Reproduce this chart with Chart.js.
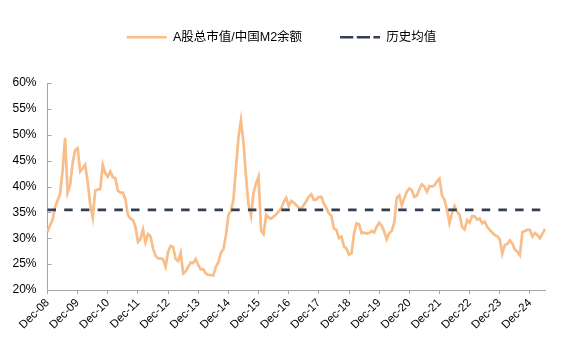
<!DOCTYPE html>
<html>
<head>
<meta charset="utf-8">
<script src="https://cdn.jsdelivr.net/npm/chart.js@4"></script>
<style>
  html, body { margin: 0; padding: 0; background: #fff; }
  canvas { display: block; }
</style>
</head>
<body>
<canvas id="mktChart" width="561" height="348"></canvas>
<script>
// A-share total market cap as % of China M2, month-end, from Dec-08
const ratio = [
  31.2, 32.5, 33.5, 36.0, 37.3, 38.5, 43.0, 49.4, 38.8, 40.3, 44.5, 47.0,
  47.4, 42.9, 43.5, 44.2, 40.8, 36.5, 34.0, 39.2, 39.4, 39.5, 44.2, 42.6,
  41.9, 42.9, 41.8, 41.6, 39.2, 38.8, 38.8, 37.5, 34.5, 33.8, 33.5, 32.2,
  29.3, 29.8, 31.7, 29.2, 30.8, 30.4, 28.0, 26.6, 26.1, 26.1, 25.9, 24.5,
  27.4, 28.5, 28.3, 26.0, 25.6, 27.2, 23.2, 23.6, 24.5, 25.3, 25.2, 26.0,
  24.8, 24.0, 24.0, 23.2, 22.9, 22.9, 22.8, 24.5, 25.3, 27.2, 27.9, 30.5,
  34.5, 35.3, 37.5, 43.5, 49.5, 52.8, 48.5, 42.0, 36.5, 34.3, 38.8, 40.6,
  41.9, 31.5, 30.8, 34.5, 34.0, 33.8, 34.2, 34.6, 35.2, 35.8, 37.0, 37.8,
  36.2, 37.2, 36.9, 36.4, 35.9, 35.7, 36.4, 37.2, 38.0, 38.5, 37.4, 37.5,
  38.0, 38.0, 36.7, 35.8, 34.8, 34.3, 31.9, 31.6, 30.0, 30.3, 28.4, 28.0,
  26.8, 27.1, 30.9, 32.9, 32.7, 31.0, 31.1, 30.9, 31.0, 31.4, 31.1, 32.2,
  33.0, 32.4, 31.3, 29.8, 31.0, 31.4, 33.0, 37.8, 38.3, 36.4, 37.7, 39.0,
  39.6, 39.3, 38.0, 38.2, 39.5, 40.4, 40.0, 39.0, 40.1, 40.0, 40.2, 41.0,
  41.5, 38.3, 37.4, 35.5, 32.9, 34.8, 36.2, 35.1, 34.5, 32.2, 31.7, 33.5,
  33.0, 34.3, 34.2, 33.6, 33.8, 32.9, 33.2, 32.2, 31.6, 31.1, 30.6, 30.4,
  29.8, 27.0, 28.7, 28.9, 29.6, 29.0, 27.8, 27.4, 26.7, 31.2, 31.4, 31.6,
  31.6, 30.3, 31.0, 30.6, 30.0, 30.9, 31.8
];
const histMean = 35.5;

const monthNames = ['Jan', 'Feb', 'Mar', 'Apr', 'May', 'Jun', 'Jul', 'Aug', 'Sep', 'Oct', 'Nov', 'Dec'];
const months = ratio.map((_, i) => {
  const m = 11 + i;
  const yy = 8 + Math.floor(m / 12);
  return monthNames[m % 12] + '-' + String(yy).padStart(2, '0');
});

const FONT = '"Liberation Sans", "Noto Sans CJK SC", Arial, sans-serif';
const axisColor = '#a6a6a6';

// small tick marks on the inner side of the y axis
const innerTicks = {
  id: 'innerTicks',
  afterDatasetsDraw(chart) {
    const { ctx, chartArea, scales: { y } } = chart;
    ctx.save();
    ctx.strokeStyle = axisColor;
    ctx.lineWidth = 1;
    y.ticks.forEach(t => {
      const py = Math.round(y.getPixelForValue(t.value)) + 0.5;
      ctx.beginPath();
      ctx.moveTo(chartArea.left, py);
      ctx.lineTo(chartArea.left + 4, py);
      ctx.stroke();
    });
    ctx.restore();
  }
};

// fixed legend band height so the plot starts where it should,
// and nudge the legend a little to the right
const legendBand = {
  id: 'legendBand',
  beforeInit(chart) {
    const fit = chart.legend.fit;
    chart.legend.fit = function () {
      fit.call(this);
      this.height = 90;
    };
  },
  afterLayout(chart) {
    chart.legend.left += 9;
    chart.legend.right += 9;
  }
};

const ctx = document.getElementById('mktChart').getContext('2d');
new Chart(ctx, {
  type: 'line',
  data: {
    labels: months,
    datasets: [{
      label: 'A股总市值/中国M2余额',
      data: ratio,
      borderColor: '#f9bd89',
      backgroundColor: '#f9bd89',
      borderWidth: 2.7,
      pointRadius: 0,
      tension: 0,
      order: 1
    }, {
      label: '历史均值',
      data: months.map(() => histMean),
      borderColor: '#333f50',
      backgroundColor: '#333f50',
      borderWidth: 2.7,
      borderDash: [8.5, 8.2],
      pointRadius: 0,
      tension: 0,
      order: 0
    }]
  },
  options: {
    responsive: false,
    animation: false,
    devicePixelRatio: 1,
    layout: { padding: { top: -7, right: 16, left: 0, bottom: 0 } },
    plugins: {
      legend: {
        labels: {
          boxWidth: 40,
          boxHeight: 0,
          padding: 38,
          color: '#000',
          font: { family: FONT, size: 12.5 },
          sort: (a, b) => a.datasetIndex - b.datasetIndex
        }
      },
      tooltip: { enabled: false }
    },
    scales: {
      x: {
        offset: false,
        grid: { drawOnChartArea: false, tickLength: 4, color: axisColor },
        border: { color: axisColor, width: 1 },
        ticks: {
          autoSkip: false,
          minRotation: 45,
          maxRotation: 45,
          padding: 2,
          color: '#000',
          font: { family: FONT, size: 11.5 }
        },
        afterBuildTicks: s => { s.ticks = s.ticks.filter(t => t.value % 12 === 0); },
        afterFit: s => { s.height = 58; }
      },
      y: {
        min: 20,
        max: 60,
        grid: { drawOnChartArea: false, drawTicks: false, color: axisColor },
        border: { color: axisColor, width: 1 },
        ticks: {
          stepSize: 5,
          padding: 11,
          color: '#000',
          font: { family: FONT, size: 12 },
          callback: v => v + '%'
        },
        afterFit: s => { s.width = 47.5; }
      }
    }
  },
  plugins: [innerTicks, legendBand]
});
</script>
</body>
</html>
